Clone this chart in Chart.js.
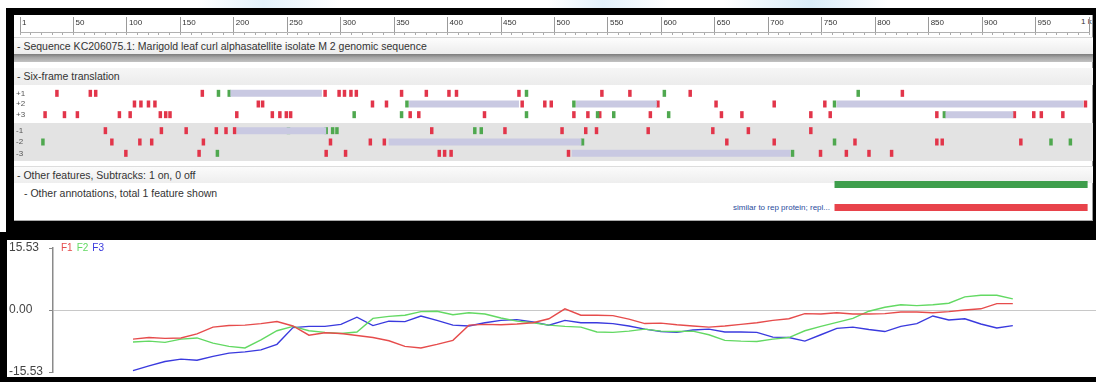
<!DOCTYPE html>
<html>
<head>
<meta charset="utf-8">
<script src="https://cdn.jsdelivr.net/npm/chart.js@4.4.1/dist/chart.umd.min.js"></script>
<style>
  html, body { margin: 0; padding: 0; }
  body {
    width: 1096px; height: 382px; background: #000; position: relative; overflow: hidden;
    font-family: "Liberation Sans", Arial, sans-serif; color: #333;
  }
  .abs { position: absolute; }
  #topStrip { left: 0; top: 0; width: 1096px; height: 8px;
    background: linear-gradient(90deg, #fff 0, #fff 18%, #e4f2fb 24%, #fff 31%, #fff 50%, #e3f1fb 55%, #fff 61%, #fff 66%, #d9ecf8 74%, #fff 81%, #fff 100%); }
  #leftStrip { left: 0; top: 8px; width: 6px; height: 224px; background: #fff; }
  #viewer { left: 14px; top: 15px; width: 1078px; height: 205px; background: #fff;
    border-right: 1px solid #999; border-bottom: 1px solid #aaa; }
  .row { left: 14px; width: 1079px; font-size: 10.5px; white-space: nowrap; }
  .row span { padding-left: 3px; }
  #seqRow { top: 37px; height: 16px; line-height: 16px; border-top: 1px solid #d4d4d4;
    background: linear-gradient(#fdfdfd, #ececec); }
  #seqBand { top: 54px; height: 8px; background: linear-gradient(#7c7c7c, #a6a6a6 45%, #c2c2c2); }
  #sixHead { top: 68px; height: 17px; line-height: 17px; background: linear-gradient(#f6f6f6, #ececec); }
  #minusBg { top: 123px; height: 38px; background: #e3e3e3; }
  #featHead { top: 166px; height: 16px; line-height: 16px; border-top: 1px solid #ddd;
    background: linear-gradient(#fbfbfb, #eeeeee); }
  #annotRow { left: 24px; top: 186px; font-size: 10.5px; line-height: 14px; white-space: nowrap; }
  #repLabel { right: 266px; top: 203px; font-size: 8px; line-height: 10px; color: #2a4c9c; white-space: nowrap; }
  #oneK { left: 1081px; top: 17px; font-size: 8px; line-height: 10px; color: #333; }
  #plotBg { left: 7px; top: 240px; width: 1089px; height: 137px; background: #fff; }
  #legend { left: 61px; top: 242px; font-size: 10px; line-height: 12px; white-space: nowrap; }
  #legend span { margin-right: 4px; }
  .wrap { position: absolute; }
</style>
</head>
<body>
<div id="topStrip" class="abs"></div>
<div id="leftStrip" class="abs"></div>
<div id="viewer" class="abs"></div>
<div id="seqRow" class="abs row"><span>- Sequence KC206075.1: Marigold leaf curl alphasatellite isolate M 2 genomic sequence</span></div>
<div id="seqBand" class="abs row"></div>
<div id="sixHead" class="abs row"><span>- Six-frame translation</span></div>
<div id="minusBg" class="abs row"></div>
<div id="featHead" class="abs row"><span>- Other features, Subtracks: 1 on, 0 off</span></div>
<div id="annotRow" class="abs">- Other annotations, total 1 feature shown</div>
<div id="repLabel" class="abs">similar to rep protein; repl...</div>
<div id="oneK" class="abs">1 k</div>

<div class="wrap" style="left:16px;top:15px;width:1077px;height:22px"><canvas id="ruler"></canvas></div>
<div class="wrap" style="left:16px;top:88px;width:1077px;height:32px"><canvas id="plusFrames"></canvas></div>
<div class="wrap" style="left:16px;top:125px;width:1077px;height:34px"><canvas id="minusFrames"></canvas></div>
<div class="wrap" style="left:16px;top:173px;width:1077px;height:46px"><canvas id="features"></canvas></div>

<div id="plotBg" class="abs"></div>
<div class="wrap" style="left:7px;top:240px;width:1089px;height:137px"><canvas id="gcPlot"></canvas></div>
<div id="legend" class="abs"></div>

<script>
// sequence range shown by the viewer (bp)
const seqStart = 0;
const seqEnd = 1000;

const plusNames = ['+1', '+2', '+3'];
const minusNames = ['-1', '-2', '-3'];

// stop codons, start codons and open reading frames per frame (bp)
const stopsP1 = [38, 69, 74, 173, 287, 300, 305, 311, 316, 358, 381, 402, 409, 467, 544, 570, 626, 823];
const startsP1 = [188, 198, 474, 602, 782];
const orfsP1 = [[199, 284]];

const stopsP2 = [110, 116, 123, 129, 225, 229, 331, 344, 470, 491, 497, 596, 650, 704, 751, 993];
const startsP2 = [363, 518, 760];
const orfsP2 = [[365, 467], [520, 595], [762, 991]];

const stopsP3 = [27, 45, 57, 96, 106, 134, 139, 143, 205, 238, 245, 251, 255, 366, 374, 435, 518, 531, 542, 589, 655, 674, 738, 756, 855, 927, 945, 952, 972];
const startsP3 = [314, 358, 474, 540, 555, 606, 862];
const orfsP3 = [[863, 926]];

const stopsM1 = [83, 135, 158, 186, 195, 203, 386, 454, 507, 529, 539, 587, 647, 680, 738];
const startsM1 = [253, 288, 294, 298, 426, 432];
const orfsM1 = [[205, 288]];

const stopsM2 = [89, 115, 126, 174, 292, 329, 342, 660, 704, 779, 855, 860, 933];
const startsM2 = [25, 526, 760, 961, 979];
const orfsM2 = [[346, 525]];

const stopsM3 = [102, 170, 288, 306, 393, 398, 404, 513, 747, 771, 792, 813];
const startsM3 = [187, 721];
const orfsM3 = [[516, 719]];

// rep protein annotation
const featureRows = ['subtrack', 'annotation'];
const featureSpan = [760, 995];
const featureArrows = [795, 875, 933, 978];

// frame plot: window centres (bp) and per-frame scores
const windowPos = [75, 90, 105, 120, 135, 150, 165, 180, 195, 210, 225, 240, 255, 270, 285, 300, 315, 330, 345, 360,
  375, 390, 405, 420, 435, 450, 465, 480, 495, 510, 525, 540, 555, 570, 585, 600, 615, 630, 645, 660,
  675, 690, 705, 720, 735, 750, 765, 780, 795, 810, 825, 840, 855, 870, 885, 900];
const f1 = [-7.3, -6.9, -7.1, -7.0, -6.0, -4.3, -3.9, -3.8, -3.4, -2.9, -4.0, -6.3, -5.7, -5.9, -6.4, -6.9, -7.7, -9.1, -9.5, -8.6,
  -7.6, -3.8, -3.6, -3.7, -3.5, -3.2, -2.2, 0.3, -1.3, -1.3, -1.4, -2.3, -3.4, -3.3, -3.7, -4.0, -4.3, -4.0, -3.6, -3.2,
  -2.6, -2.2, -0.9, -1.0, -0.7, -1.0, -1.0, -0.9, -0.5, -0.5, -0.7, -0.4, 0.0, 0.3, 1.6, 1.6];
const f2 = [-8.0, -7.8, -8.1, -7.3, -7.0, -8.3, -9.1, -9.5, -7.5, -5.2, -4.1, -5.2, -5.6, -5.9, -5.5, -2.1, -1.6, -1.3, -0.4, -0.3,
  -1.2, -0.7, -1.0, -2.0, -2.8, -3.2, -3.8, -4.1, -4.3, -5.5, -5.6, -5.3, -4.8, -5.3, -5.4, -5.3, -6.2, -7.6, -7.8, -7.9,
  -7.3, -6.9, -5.2, -4.1, -3.1, -2.1, -0.3, 0.7, 1.3, 1.1, 1.3, 1.7, 3.3, 3.7, 3.7, 2.8];
const f3 = [-15.2, -14.0, -12.9, -12.3, -12.6, -11.6, -10.8, -10.5, -10.0, -8.6, -4.4, -4.1, -4.1, -3.6, -1.8, -3.9, -2.8, -2.9, -1.5, -2.6,
  -3.8, -4.0, -3.2, -2.6, -2.4, -3.0, -3.8, -2.6, -3.2, -3.2, -3.4, -4.0, -4.8, -5.4, -5.6, -5.0, -4.8, -5.5, -5.5, -5.6,
  -6.8, -6.9, -7.8, -6.2, -4.6, -4.3, -4.9, -5.4, -4.1, -3.4, -1.5, -2.5, -2.2, -3.5, -4.5, -3.9];
const frameSeries = ['F1', 'F2', 'F3'];
const frameColors = ['#e64c4c', '#63d963', '#3a3ade'];
const scoreLimit = 15.53;

const STOP_COLOR = '#e2354a';
const START_COLOR = '#4fa84f';
const ORF_COLOR = '#c9c9e2';

// all tracks share the bp axis, so no automatic padding around the marks
const baseOptions = {
  responsive: true,
  maintainAspectRatio: false,
  animation: false,
  events: [],
  layout: { autoPadding: false, padding: 0 },
  plugins: { legend: { display: false }, tooltip: { enabled: false } }
};

// ruler: labelled ticks every 50 bp, small ticks every 10 bp
new Chart(document.getElementById('ruler'), {
  type: 'scatter',
  data: { datasets: [] },
  options: {
    ...baseOptions,
    layout: { autoPadding: false, padding: { top: 2 } },
    scales: {
      x: {
        type: 'linear', min: seqStart, max: seqEnd, position: 'bottom',
        grid: { color: '#9a9a9a', drawTicks: false },
        border: { display: false },
        afterFit: s => { s.height = 0; },
        ticks: {
          stepSize: 50, autoSkip: false, maxRotation: 0, align: 'start', mirror: true,
          padding: 4, labelOffset: 2,
          font: { size: 8, family: 'Liberation Sans' }, color: '#333',
          callback: v => (v === seqStart ? '1' : v === seqEnd ? '' : String(v))
        }
      },
      x2: {
        type: 'linear', min: seqStart, max: seqEnd, position: 'bottom',
        grid: { drawOnChartArea: false, tickLength: 3, color: '#aaa' },
        border: { display: true, color: '#b0b0b0', dash: [2, 2] },
        afterFit: s => { s.height = 5; },
        ticks: { stepSize: 10, display: false }
      },
      y: { display: false, min: 0, max: 1 }
    }
  }
});

function frameChart(id, names, stops, starts, orfs) {
  const datasets = [];
  orfs.forEach((list, r) => list.forEach(([a, b]) => {
    datasets.push({
      type: 'line', data: [{ x: a, y: names[r] }, { x: b, y: names[r] }],
      borderColor: ORF_COLOR, borderWidth: 7, pointRadius: 0
    });
  }));
  datasets.push({
    data: orfs.flatMap((list, r) => list.map(([a, b]) => ({ x: (a + b) / 2, y: names[r] }))),
    pointStyle: 'circle', pointRadius: 1.3, pointBackgroundColor: '#52527e', pointBorderWidth: 0
  });
  datasets.push({
    data: starts.flatMap((list, r) => list.map(p => ({ x: p, y: names[r] }))),
    pointStyle: 'line', pointRotation: 90, pointRadius: 3.5,
    pointBorderColor: START_COLOR, pointBorderWidth: 3.5
  });
  datasets.push({
    data: stops.flatMap((list, r) => list.map(p => ({ x: p, y: names[r] }))),
    pointStyle: 'line', pointRotation: 90, pointRadius: 3.5,
    pointBorderColor: STOP_COLOR, pointBorderWidth: 3.5
  });
  return new Chart(document.getElementById(id), {
    type: 'scatter',
    data: { datasets },
    options: {
      ...baseOptions,
      scales: {
        x: { type: 'linear', min: seqStart, max: seqEnd, display: false },
        y: {
          type: 'category', labels: names, offset: true,
          grid: { display: false, drawTicks: false }, border: { display: false },
          // frame names sit inside the track, so they must not shrink it
          afterFit: s => { s.paddingTop = 0; s.paddingBottom = 0; },
          ticks: {
            mirror: true, padding: 0, autoSkip: false,
            font: { size: 8, family: 'Liberation Sans' }, color: '#555'
          }
        }
      }
    }
  });
}

frameChart('plusFrames', plusNames, [stopsP1, stopsP2, stopsP3], [startsP1, startsP2, startsP3], [orfsP1, orfsP2, orfsP3]);
frameChart('minusFrames', minusNames, [stopsM1, stopsM2, stopsM3], [startsM1, startsM2, startsM3], [orfsM1, orfsM2, orfsM3]);

// rep protein feature: green subtrack summary and red annotation
const featureColors = ['#3e9e4c', '#e8434b'];
new Chart(document.getElementById('features'), {
  type: 'scatter',
  data: {
    datasets: [
      ...featureRows.map((row, i) => ({
        type: 'line', data: [{ x: featureSpan[0], y: row }, { x: featureSpan[1], y: row }],
        borderColor: featureColors[i], borderWidth: 7, pointRadius: 0
      })),
      ...featureRows.map(row => ({
        type: 'line', data: [{ x: featureSpan[0], y: row }, { x: featureSpan[1], y: row }],
        borderColor: 'rgba(255,255,255,0.3)', borderWidth: 1.2, pointRadius: 0
      })),
      {
        data: featureRows.flatMap(row => featureArrows.map(p => ({ x: p, y: row }))),
        pointStyle: 'triangle', pointRotation: 90, pointRadius: 2.3,
        pointBackgroundColor: 'rgba(255,255,255,0.85)', pointBorderWidth: 0
      }
    ]
  },
  options: {
    ...baseOptions,
    scales: {
      x: { type: 'linear', min: seqStart, max: seqEnd, display: false },
      y: { type: 'category', labels: featureRows, offset: true, display: false }
    }
  }
});

// frame plot legend
document.getElementById('legend').innerHTML = frameSeries
  .map((name, i) => `<span style="color:${frameColors[i]}">${name}</span>`).join('');

const scores = [f1, f2, f3];
new Chart(document.getElementById('gcPlot'), {
  type: 'line',
  data: {
    datasets: frameSeries.map((name, i) => ({
      label: name,
      data: windowPos.map((p, k) => ({ x: p, y: scores[i][k] })),
      borderColor: frameColors[i], borderWidth: 1.4, pointRadius: 0, tension: 0
    }))
  },
  options: {
    ...baseOptions,
    layout: { autoPadding: false, padding: { left: 2, top: 8, bottom: 5, right: 0 } },
    scales: {
      x: { type: 'linear', min: 0, max: 978, display: false },
      y: {
        min: -scoreLimit, max: scoreLimit,
        afterBuildTicks: s => { s.ticks = [-scoreLimit, 0, scoreLimit].map(v => ({ value: v })); },
        afterFit: s => { s.width = 44; s.paddingTop = 0; s.paddingBottom = 0; },
        grid: {
          color: c => (c.tick && c.tick.value === 0 ? '#c8c8c8' : 'rgba(0,0,0,0)'),
          tickColor: '#888', tickLength: 4
        },
        border: { color: '#8a8a8a', width: 1.5 },
        ticks: {
          crossAlign: 'far', padding: 3, color: '#444',
          font: { size: 12, family: 'Liberation Sans' },
          callback: v => Number(v).toFixed(2)
        }
      }
    }
  }
});
</script>
</body>
</html>
